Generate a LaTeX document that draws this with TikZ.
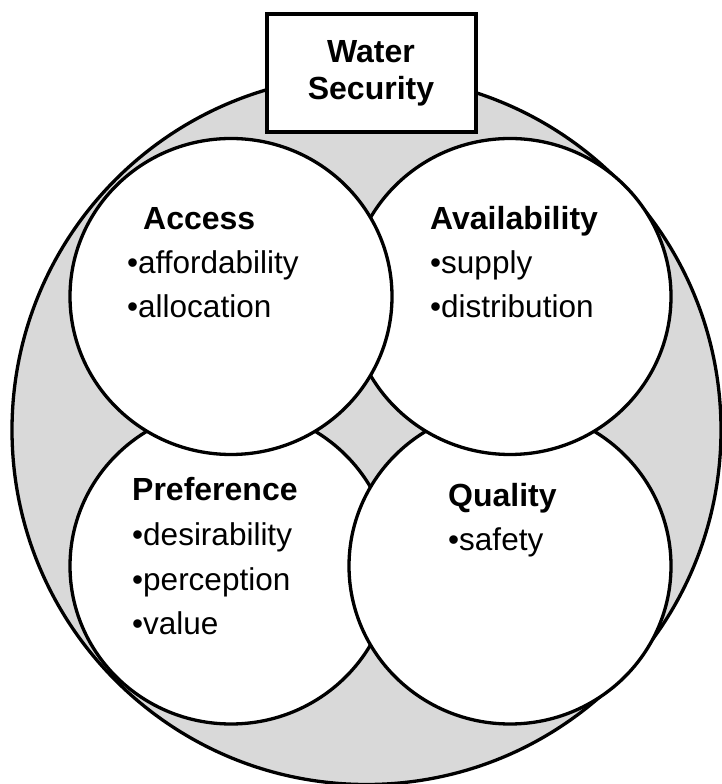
\documentclass[tikz,border=0pt]{standalone}
\usepackage{fontspec}
\setmainfont{Liberation Sans}
\usetikzlibrary{shapes.geometric}
\definecolor{ringgray}{HTML}{D9D9D9}
\tikzset{
  outline/.style={draw=black, line width=3.3pt},
  part/.style={outline, fill=white, ellipse, inner sep=0pt,
    minimum width=322pt, minimum height=316pt},
  heading/.style={font=\fontsize{32}{38}\selectfont\bfseries, inner sep=0pt, anchor=base west},
  item/.style={font=\fontsize{31.5}{38}\selectfont, inner sep=0pt, anchor=base west},
  titlebox/.style={outline, fill=white, rectangle, inner sep=0pt,
    minimum width=209pt, minimum height=118pt}
}
\begin{document}
\begin{tikzpicture}[x=1pt,y=1pt]
  \useasboundingbox (0,0) rectangle (721,784);
  % outer ring
  \node[outline, fill=ringgray, circle, inner sep=0pt, minimum size=709pt] (ring) at (366.5,354) {};
  % the four dimensions, back to front
  \node[part] (pref) at (231,218) {};
  \node[part] (qual) at (510,218) {};
  \node[part] (avail) at (510,487.5) {};
  \node[part] (access) at (231,487.5) {};
  % title box
  \node[titlebox] (ws) at (371.5,711) {};
  \node[heading, anchor=base] (ws1) at (371,721) {Water};
  \node[heading, anchor=base] (ws2) at (371,684) {Security};
  % Access
  \node[heading] (acct) at (143,554) {Access};
  \node[item] (acc1) at (127,510) {•affordability};
  \node[item] (acc2) at (127,466) {•allocation};
  % Availability
  \node[heading] (avt) at (430,554) {Availability};
  \node[item] (av1) at (430,510) {•supply};
  \node[item] (av2) at (430,466) {•distribution};
  % Preference
  \node[heading] (prt) at (132,283) {Preference};
  \node[item] (pr1) at (132,238) {•desirability};
  \node[item] (pr2) at (132,193) {•perception};
  \node[item] (pr3) at (132,149) {•value};
  % Quality
  \node[heading] (qut) at (448,277) {Quality};
  \node[item] (qu1) at (448,233) {•safety};
\end{tikzpicture}
\end{document}
